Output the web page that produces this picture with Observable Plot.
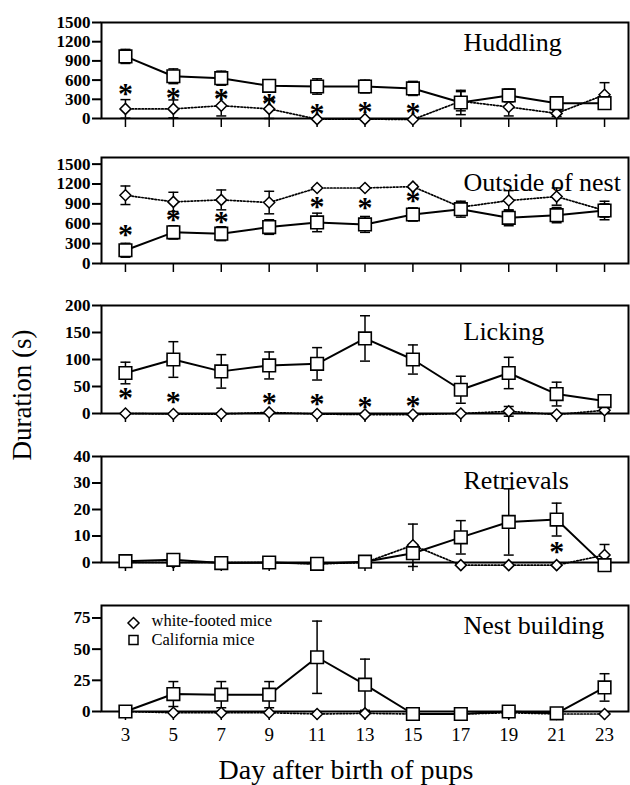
<!DOCTYPE html>
<html>
<head>
<meta charset="utf-8">
<script src="https://cdn.jsdelivr.net/npm/d3@7"></script>
<script src="https://cdn.jsdelivr.net/npm/@observablehq/plot@0.6"></script>
<style>
  html, body { margin: 0; padding: 0; background: #fff; }
  #chart { position: relative; width: 630px; height: 785px; font-family: "Liberation Serif", "Times New Roman", serif; color: #000; }
  #chart svg { display: block; }
  #chart svg, #chart svg text { font-family: "Liberation Serif", "Times New Roman", serif !important; }
  #ytitle { position: absolute; left: 22px; top: 395px; transform: translate(-50%, -50%) rotate(-90deg); font-size: 27px; white-space: nowrap; line-height: 1; font-family: "Liberation Serif", serif; }
</style>
</head>
<body>
<div id="chart"><div id="ytitle">Duration (s)</div></div>
<script>
// ---------- data ----------
const days = [3, 5, 7, 9, 11, 13, 15, 17, 19, 21, 23];
const seriesNames = ["white-footed mice", "California mice"];
const xTitle = "Day after birth of pups";

// Huddling
const hudCal    = [970, 660, 630, 510, 500, 500, 470, 250, 360, 240, 240];
const hudCalErr = [110, 115, 110, 85, 120, 100, 110, 190, 100, 100, 90];
const hudWf     = [150, 150, 200, 150, -10, -10, -15, 270, 180, 80, 370];
const hudWfErr  = [145, 140, 160, 150, 0, 0, 0, 150, 140, 50, 190];
const hudStarDays = [3, 5, 7, 9, 11, 13, 15];
const hudStarY    = [470, 415, 400, 312, 156, 192, 172];
const hudTicks = [0, 300, 600, 900, 1200, 1500];

// Outside of nest
const outCal    = [200, 470, 450, 550, 620, 590, 740, 820, 690, 730, 800];
const outCalErr = [105, 100, 105, 110, 140, 120, 100, 120, 120, 115, 140];
const outWf     = [1030, 930, 960, 920, 1140, 1140, 1160, 850, 950, 1010, 800];
const outWfErr  = [140, 145, 150, 170, 0, 0, 20, 60, 150, 130, 100];
const outStarDays = [3, 5, 7, 11, 13, 15];
const outStarY    = [513, 745, 704, 930, 915, 1031];
const outTicks = [0, 300, 600, 900, 1200, 1500];

// Licking
const lickCal    = [75, 100, 78, 89, 92, 139, 100, 44, 75, 36, 23];
const lickCalErr = [20, 33, 31, 25, 30, 42, 27, 25, 29, 22, 5];
const lickWf     = [0, -1, -1, 2, -1, -2, -2, 0, 4, -2, 6];
const lickWfErr  = [0, 0, 0, 0, 0, 0, 0, 0, 9, 0, 4];
const lickStarDays = [3, 5, 9, 11, 13, 15];
const lickStarY    = [40, 31, 29, 28, 23, 25];
const lickTicks = [0, 50, 100, 150, 200];

// Retrievals
const retCal    = [0.5, 1, -0.2, 0, -0.5, 0.3, 3.5, 9.5, 15.3, 16.2, -1];
const retCalErr = [0, 0, 0, 0, 0, 0, 2, 6.3, 12.5, 6.2, 0];
const retWf     = [0, 0, 0, 0, -0.5, 0, 6.5, -1, -1, -1, 2.8];
const retWfErr  = [0, 0, 0, 0, 0, 0, 8, 0, 0, 0, 4];
const retStarDays = [21];
const retStarY    = [6];
const retTicks = [0, 10, 20, 30, 40];

// Nest building
const nestCal    = [0, 14, 13.5, 13.5, 43.5, 21.5, -2, -2, 0, -1.5, 19.3];
const nestCalErr = [0, 10, 10.5, 10.5, 29, 20.5, 0, 0, 0, 0, 11];
const nestWf     = [0, -1, -1, -1, -2, -1.5, -2, -2, -1, -2, -2];
const nestWfErr  = [0, 0, 0, 0, 0, 0, 0, 0, 0, 0, 0];
const nestStarDays = [];
const nestStarY    = [];
const nestTicks = [0, 25, 50, 75];

// ---------- symbols ----------
const diamondSym = {draw(ctx, size) { const h = Math.sqrt(size / Math.PI); ctx.moveTo(0, -h); ctx.lineTo(h, 0); ctx.lineTo(0, h); ctx.lineTo(-h, 0); ctx.closePath(); }};
const squareSym  = {draw(ctx, size) { const h = Math.sqrt(size / Math.PI); ctx.rect(-h, -h, 2 * h, 2 * h); }};
const capSym     = {draw(ctx, size) { const h = Math.sqrt(size / Math.PI); ctx.moveTo(-h, 0); ctx.lineTo(h, 0); }};

const FONT = "'Liberation Serif', serif";

const panels = [
  {title: "Huddling", cal: hudCal, calErr: hudCalErr, wf: hudWf, wfErr: hudWfErr, starDays: hudStarDays, starY: hudStarY, ticks: hudTicks, domain: [0, 1500], marginTop: 22, height: 130, plotH: 96, titleDy: 20},
  {title: "Outside of nest", cal: outCal, calErr: outCalErr, wf: outWf, wfErr: outWfErr, starDays: outStarDays, starY: outStarY, ticks: outTicks, domain: [0, 1600], marginTop: 27, height: 145, plotH: 106, titleDy: 25},
  {title: "Licking", cal: lickCal, calErr: lickCalErr, wf: lickWf, wfErr: lickWfErr, starDays: lickStarDays, starY: lickStarY, ticks: lickTicks, domain: [0, 200], marginTop: 30, height: 150, plotH: 108, titleDy: 26},
  {title: "Retrievals", cal: retCal, calErr: retCalErr, wf: retWf, wfErr: retWfErr, starDays: retStarDays, starY: retStarY, ticks: retTicks, domain: [0, 40], marginTop: 31, height: 149, plotH: 106, titleDy: 24},
  {title: "Nest building", cal: nestCal, calErr: nestCalErr, wf: nestWf, wfErr: nestWfErr, starDays: nestStarDays, starY: nestStarY, ticks: nestTicks, domain: [0, 85], marginTop: 31, height: 211, plotH: 106, titleDy: 20, last: true}
];

function errMarks(rows, key, errKey) {
  const r = rows.filter(d => d[errKey] > 0);
  return [
    Plot.ruleX(r, {x: "day", y1: d => d[key] - d[errKey], y2: d => d[key] + d[errKey], stroke: "black", strokeWidth: 1.5}),
    Plot.dot(r, {x: "day", y: d => d[key] + d[errKey], symbol: capSym, r: 5, stroke: "black", strokeWidth: 1.5}),
    Plot.dot(r, {x: "day", y: d => d[key] - d[errKey], symbol: capSym, r: 5, stroke: "black", strokeWidth: 1.5})
  ];
}

const chart = document.getElementById("chart");
for (const p of panels) {
  const rows = days.map((day, i) => ({day, cal: p.cal[i], calErr: p.calErr[i], wf: p.wf[i], wfErr: p.wfErr[i]}));
  const stars = p.starDays.map((day, i) => ({day, y: p.starY[i]}));
  const marginBottom = p.height - p.marginTop - p.plotH;
  const marks = [
    Plot.axisX({ticks: days, tickSize: 9, tickPadding: 7, strokeWidth: 1.5, fontSize: 19, fontFamily: FONT, label: null,
                tickFormat: p.last ? (d => `${d}`) : (() => "")}),
    Plot.axisY({ticks: p.ticks, tickSize: 9, tickPadding: 2, strokeWidth: 2, fontSize: 17, fontFamily: FONT, fontWeight: 600, label: null, tickFormat: d => `${d}`}),
    Plot.frame({stroke: "black", strokeWidth: 2}),
    Plot.line(rows, {x: "day", y: "wf", stroke: "black", strokeWidth: 1.7, strokeDasharray: "1.5,1.8"}),
    Plot.line(rows, {x: "day", y: "cal", stroke: "black", strokeWidth: 2}),
    ...errMarks(rows, "wf", "wfErr"),
    ...errMarks(rows, "cal", "calErr"),
    Plot.dot(rows, {x: "day", y: "wf", symbol: diamondSym, r: 5.5, fill: "white", stroke: "black", strokeWidth: 1.5}),
    Plot.dot(rows, {x: "day", y: "cal", symbol: squareSym, r: 6.3, fill: "white", stroke: "black", strokeWidth: 1.6}),
    Plot.text(stars, {x: "day", y: "y", text: () => "*", fontSize: 30, fontWeight: "bold", dy: 5, lineAnchor: "middle", fill: "black", fontFamily: FONT}),
    Plot.text([p.title], {frameAnchor: "top-left", dx: 362, dy: p.titleDy, textAnchor: "start", lineAnchor: "middle", fontSize: 26, fill: "black", fontFamily: FONT})
  ];
  if (p.last) {
    marks.push(
      Plot.dot([seriesNames[0]], {frameAnchor: "top-left", dx: 32, dy: 17.5, symbol: diamondSym, r: 5.5, fill: "white", stroke: "black", strokeWidth: 1.5}),
      Plot.dot([seriesNames[1]], {frameAnchor: "top-left", dx: 32, dy: 34.5, symbol: squareSym, r: 4.5, fill: "white", stroke: "black", strokeWidth: 1.5}),
      Plot.text([seriesNames[0]], {frameAnchor: "top-left", dx: 50, dy: 15.5, textAnchor: "start", lineAnchor: "middle", fontSize: 16.5, fill: "black", fontFamily: FONT}),
      Plot.text([seriesNames[1]], {frameAnchor: "top-left", dx: 50, dy: 34.5, textAnchor: "start", lineAnchor: "middle", fontSize: 16.5, fill: "black", fontFamily: FONT}),
      Plot.text([xTitle], {frameAnchor: "bottom", dx: -19, dy: 59, textAnchor: "middle", lineAnchor: "middle", fontSize: 28, fill: "black", fontFamily: FONT})
    );
  }
  const svg = Plot.plot({
    width: 630,
    height: p.height,
    marginLeft: 101,
    marginRight: 2,
    marginTop: p.marginTop,
    marginBottom: marginBottom,
    x: {domain: [2, 24]},
    y: {domain: p.domain},
    style: {fontFamily: FONT, fontSize: "17px", color: "black", background: "white", overflow: "visible"},
    marks
  });
  chart.appendChild(svg);
}
</script>
</body>
</html>
